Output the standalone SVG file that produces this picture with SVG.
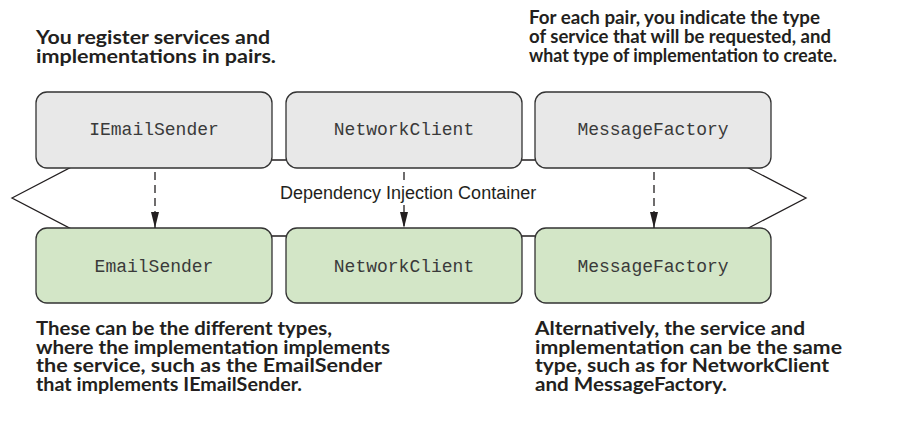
<svg xmlns="http://www.w3.org/2000/svg" width="899" height="423" viewBox="0 0 899 423">
<style>
  .note { font-family: "Lato", "Open Sans", sans-serif; font-weight: 700; font-size: 19px; fill: #231f20; }
  .code { font-family: "Liberation Mono", "DejaVu Sans Mono", monospace; font-size: 18px; fill: #3a3a3a; text-anchor: middle; }
  .svc { fill: #e8e8e8; stroke: #333333; stroke-width: 1.3; }
  .impl { fill: #d3e6c7; stroke: #333333; stroke-width: 1.3; }
  .conn { stroke: #231f20; stroke-width: 1.3; stroke-dasharray: 8 5; fill: none; }
  .lbl { font-family: "Liberation Sans", Arial, sans-serif; font-size: 18px; fill: #231f20; }
</style>
<defs>
  <marker id="arr" viewBox="0 0 16 8" refX="16" refY="4" markerWidth="16" markerHeight="8" markerUnits="userSpaceOnUse" orient="auto">
    <path d="M0,0 L16,4 L0,8 Z" fill="#231f20"/>
  </marker>
</defs>
<rect width="899" height="423" fill="#ffffff"/>

<g id="container">
  <polygon points="12,198 85,160 733,160 806,198 733,236 85,236" fill="#ffffff" stroke="#231f20" stroke-width="1.3"/>
  <text class="lbl" x="280" y="199">Dependency Injection Container</text>
</g>

<g id="svc-IEmailSender"><rect class="svc" x="36" y="92" width="236" height="76" rx="11"/><text class="code" x="154" y="135">IEmailSender</text></g>
<g id="svc-NetworkClient"><rect class="svc" x="286" y="92" width="236" height="76" rx="11"/><text class="code" x="404" y="135">NetworkClient</text></g>
<g id="svc-MessageFactory"><rect class="svc" x="535" y="92" width="236" height="76" rx="11"/><text class="code" x="653" y="135">MessageFactory</text></g>

<g id="impl-EmailSender"><rect class="impl" x="36" y="228" width="236" height="75" rx="11"/><text class="code" x="154" y="272">EmailSender</text></g>
<g id="impl-NetworkClient"><rect class="impl" x="286" y="228" width="236" height="75" rx="11"/><text class="code" x="404" y="272">NetworkClient</text></g>
<g id="impl-MessageFactory"><rect class="impl" x="535" y="228" width="236" height="75" rx="11"/><text class="code" x="653" y="272">MessageFactory</text></g>

<g id="connectors">
  <path class="conn" d="M155,172 V228" marker-end="url(#arr)"/>
  <path class="conn" d="M404,172 V182 M404,205 V228" marker-end="url(#arr)"/>
  <path class="conn" d="M654,172 V228" marker-end="url(#arr)"/>
</g>

<g id="note-top-left">
  <text class="note" x="36" y="44" textLength="234" lengthAdjust="spacingAndGlyphs">You register services and</text>
  <text class="note" x="36" y="63" textLength="240" lengthAdjust="spacingAndGlyphs">implementations in pairs.</text>
</g>
<g id="note-top-right">
  <text class="note" x="529" y="24" textLength="291" lengthAdjust="spacingAndGlyphs">For each pair, you indicate the type</text>
  <text class="note" x="529" y="43" textLength="302" lengthAdjust="spacingAndGlyphs">of service that will be requested, and</text>
  <text class="note" x="529" y="62" textLength="308" lengthAdjust="spacingAndGlyphs">what type of implementation to create.</text>
</g>
<g id="note-bottom-left">
  <text class="note" x="36" y="335" textLength="296" lengthAdjust="spacingAndGlyphs">These can be the different types,</text>
  <text class="note" x="36" y="353.5" textLength="354" lengthAdjust="spacingAndGlyphs">where the implementation implements</text>
  <text class="note" x="36" y="372" textLength="346" lengthAdjust="spacingAndGlyphs">the service, such as the EmailSender</text>
  <text class="note" x="36" y="390.5" textLength="266" lengthAdjust="spacingAndGlyphs">that implements IEmailSender.</text>
</g>
<g id="note-bottom-right">
  <text class="note" x="535" y="335" textLength="270" lengthAdjust="spacingAndGlyphs">Alternatively, the service and</text>
  <text class="note" x="535" y="353.5" textLength="307" lengthAdjust="spacingAndGlyphs">implementation can be the same</text>
  <text class="note" x="535" y="372" textLength="294" lengthAdjust="spacingAndGlyphs">type, such as for NetworkClient</text>
  <text class="note" x="535" y="390.5" textLength="192" lengthAdjust="spacingAndGlyphs">and MessageFactory.</text>
</g>
</svg>
